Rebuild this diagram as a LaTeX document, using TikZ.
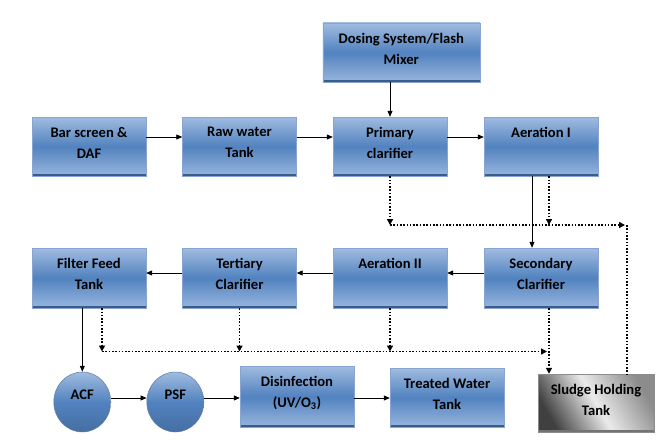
\documentclass[tikz,border=0pt]{standalone}
\usepackage{fontspec}
\setmainfont{Carlito}
\usetikzlibrary{arrows.meta,shapes.geometric}
\definecolor{bTop}{RGB}{160,188,224}
\definecolor{bMid}{RGB}{82,130,191}
\definecolor{bBot}{RGB}{152,182,222}
\definecolor{bEdge}{RGB}{56,93,138}
\definecolor{bLine}{RGB}{135,165,208}
\begin{document}
\begin{tikzpicture}[x=1pt,y=-1pt,
  blk/.style={rectangle, draw=bLine, line width=0.4pt, top color=bTop, bottom color=bBot, middle color=bMid,
    minimum width=114pt, minimum height=59pt, inner sep=0pt,
    path picture={\fill[bEdge] ([yshift=2.5pt]path picture bounding box.south west) rectangle (path picture bounding box.south east);}},
  circ/.style={ellipse, draw=bEdge!80, line width=0.5pt, top color=bTop, bottom color=bMid!85!black, middle color=bMid,
    minimum width=57pt, minimum height=60pt, inner sep=0pt},
  sl/.style={rectangle, draw=black!45, line width=0.5pt, top color=black!45, bottom color=black!75, middle color=black!8, shading angle=-60,
    minimum width=116pt, minimum height=58pt, inner sep=0pt,
    path picture={\fill[black!55] ([yshift=2pt]path picture bounding box.south west) rectangle (path picture bounding box.south east);}},
  lab/.style={anchor=north, inner sep=0pt, align=center, text=black, font=\bfseries\fontsize{14.6}{21}\selectfont, yshift=-10pt},
  clab/.style={anchor=center, inner sep=0pt, text=black, font=\bfseries\fontsize{14.6}{21}\selectfont, yshift=7pt},
  arr/.style={line width=0.8pt, -{Triangle[length=6pt,width=5pt]}},
  dots/.style={line width=1.6pt, dash pattern=on 1.6pt off 1.7pt},
  tipd/.style={-{Triangle[length=6pt,width=6pt]}}
]
\useasboundingbox[fill=white] (0,0) rectangle (666,444);

% top
\node[blk, minimum width=157pt, label={[lab,name=dosingT]north:{Dosing System/Flash\\Mixer}}] (dosing) at (401.3,52.5) {};
% row 1
\node[blk, label={[lab,name=barT]north:{Bar screen \&\\DAF}}] (bar) at (89,146.5) {};
\node[blk, label={[lab,name=rawT]north:{Raw water\\Tank}}] (raw) at (239.5,146.5) {};
\node[blk, label={[lab,name=primT]north:{Primary\\clarifier}}] (prim) at (390,146.5) {};
\node[blk, label={[lab,name=aer1T]north:{Aeration I}}] (aer1) at (541,146.5) {};
% row 2
\node[blk, minimum height=60pt, label={[lab,name=filtT]north:{Filter Feed\\Tank}}] (filt) at (89,278) {};
\node[blk, minimum height=60pt, label={[lab,name=tertT]north:{Tertiary\\Clarifier}}] (tert) at (239.5,278) {};
\node[blk, minimum height=60pt, label={[lab,name=aer2T]north:{Aeration II}}] (aer2) at (390,278) {};
\node[blk, minimum height=60pt, label={[lab,name=secT]north:{Secondary\\Clarifier}}] (sec) at (541,278) {};
% row 3
\node[circ, label={[clab,name=acfT]center:ACF}] (acf) at (82.3,402) {};
\node[circ, label={[clab,name=psfT]center:PSF}] (psf) at (175.3,402) {};
\node[blk, minimum height=61pt, label={[lab,name=disT]north:{Disinfection\\(UV/O\textsubscript{3})}}] (dis) at (297,396.5) {};
\node[blk, label={[lab,name=treT]north:{Treated Water\\Tank}}] (tre) at (447,397.5) {};
\node[sl, label={[lab,name=sluT]north:{Sludge Holding\\Tank}}] (slu) at (596,403) {};

% solid flow
\draw[arr] (dosing.south -| prim.north) -- (prim.north);
\draw[arr] ([yshift=9.5pt]bar.east) -- ([yshift=9.5pt]raw.west);
\draw[arr] ([yshift=9.5pt]raw.east) -- ([yshift=9.5pt]prim.west);
\draw[arr] ([yshift=9.5pt]prim.east) -- ([yshift=9.5pt]aer1.west);
\draw[arr] ([xshift=-9pt]aer1.south) -- ([xshift=-9pt]sec.north);
\draw[arr] ([yshift=5pt]sec.west) -- ([yshift=5pt]aer2.east);
\draw[arr] ([yshift=5pt]aer2.west) -- ([yshift=5pt]tert.east);
\draw[arr] ([yshift=5pt]tert.west) -- ([yshift=5pt]filt.east);
\draw[arr] (filt.south -| acf.north) -- (acf.north);
\draw[arr] ([yshift=4pt]acf.east) -- ([yshift=4pt]psf.west);
\draw[arr] ([yshift=4pt]psf.east) -- ([yshift=4pt]psf.east -| dis.west);
\draw[arr] ([yshift=-1.5pt]dis.east) -- ([yshift=-1.5pt]dis.east -| tre.west);

% sludge lines (upper)
\coordinate (c1) at (390,225);
\coordinate (c2) at (627,225);
\draw[dots,tipd] (prim.south) -- (c1);
\draw[dots,tipd] ([xshift=8pt]aer1.south) -- ([xshift=8pt]aer1.south |- c1);
\draw[dots,tipd] (c1) -- ([xshift=-2pt]c2);
\draw[dots] (c2) -- (c2 |- slu.north);

% sludge lines (lower)
\coordinate (c3) at (102,351.5);
\coordinate (c4) at (547,351.5);
\draw[dots,tipd] ([xshift=13pt]filt.south) -- (c3);
\draw[dots,tipd] (tert.south) -- (tert.south |- c3);
\draw[dots,tipd] (aer2.south) -- (aer2.south |- c3);
\draw[dots,tipd] (c3) -- (c4);
\draw[dots,tipd] ([xshift=8pt]sec.south) -- ([xshift=8pt]sec.south |- slu.north);
\end{tikzpicture}
\end{document}
